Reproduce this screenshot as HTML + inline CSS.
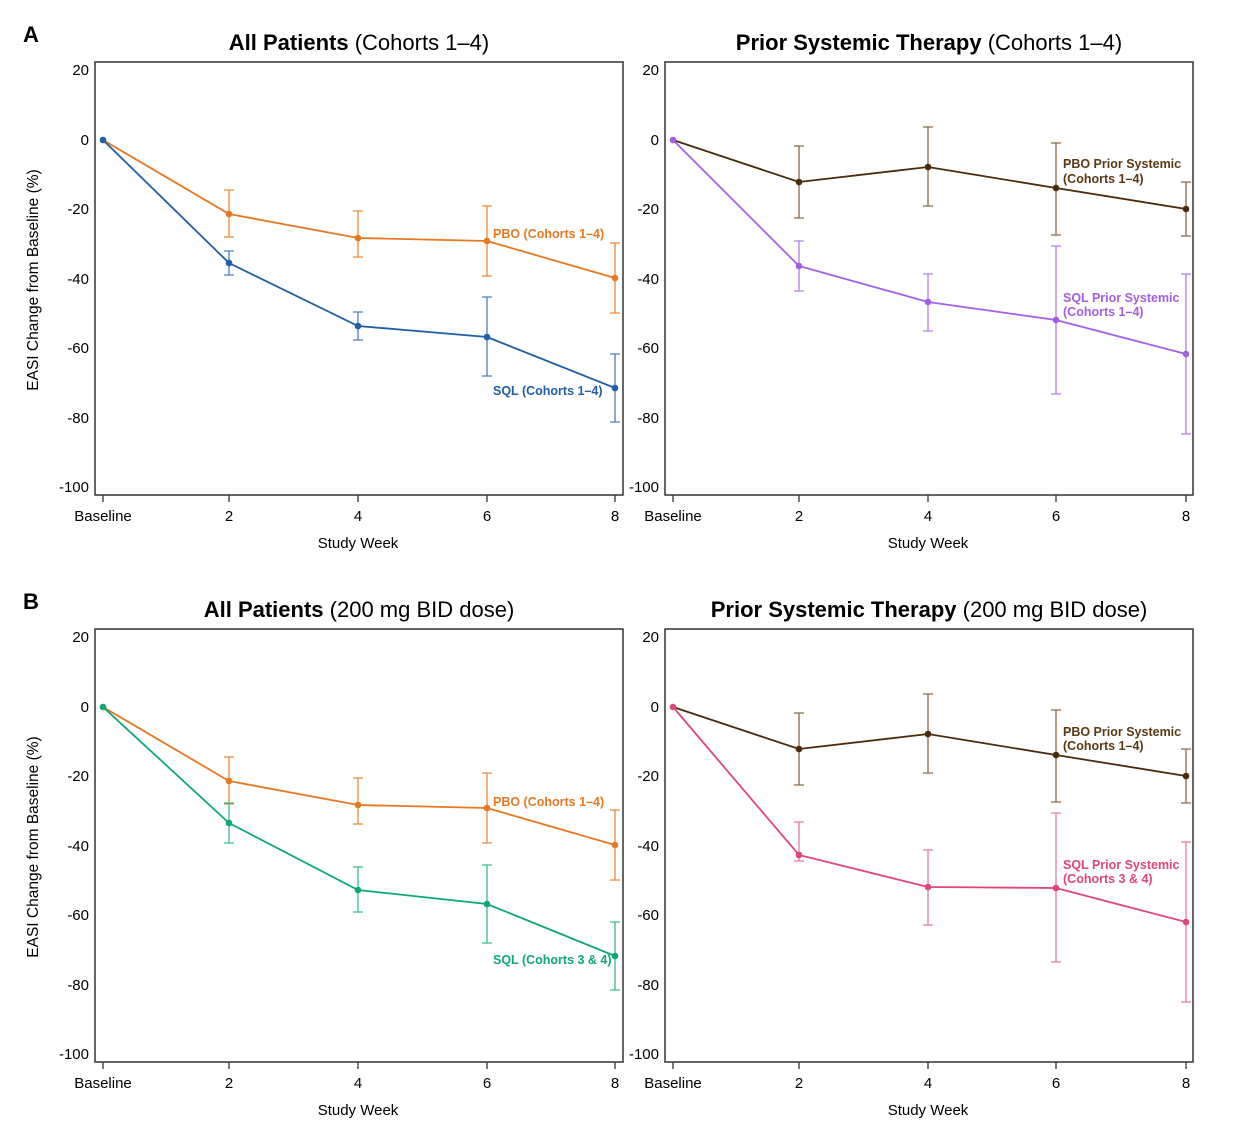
<!DOCTYPE html>
<html><head><meta charset="utf-8"><style>
body{margin:0;background:#fff}
svg{display:block;font-family:"Liberation Sans",Arial,sans-serif}
.t{font-size:22px;text-anchor:middle}
.yl{font-size:15px;text-anchor:end}
.xl{font-size:15px;text-anchor:middle}
.lab{font-size:12.5px;font-weight:bold}
.box{fill:none;stroke:#333;stroke-width:1.5}
.eb{stroke-width:1.3;fill:none}
.ln{stroke-width:1.8;fill:none}
</style></head><body>
<svg width="1235" height="1142" viewBox="0 0 1235 1142">
<text x="23" y="42" font-size="22" font-weight="bold">A</text>
<text x="23" y="609" font-size="22" font-weight="bold">B</text>

<text class="t" x="359" y="50"><tspan font-weight="bold">All Patients</tspan> (Cohorts 1–4)</text>
<text class="t" x="929" y="50"><tspan font-weight="bold">Prior Systemic Therapy</tspan> (Cohorts 1–4)</text>
<text class="t" x="359" y="617"><tspan font-weight="bold">All Patients</tspan> (200 mg BID dose)</text>
<text class="t" x="929" y="617"><tspan font-weight="bold">Prior Systemic Therapy</tspan> (200 mg BID dose)</text>

<rect class="box" x="95" y="62" width="528" height="433"/>
<rect class="box" x="665" y="62" width="528" height="433"/>
<rect class="box" x="95" y="629" width="528" height="433"/>
<rect class="box" x="665" y="629" width="528" height="433"/>

<g class="yl">
<text x="89" y="75">20</text><text x="89" y="145">0</text><text x="89" y="214">-20</text><text x="89" y="284">-40</text><text x="89" y="353">-60</text><text x="89" y="423">-80</text><text x="89" y="492">-100</text>
<text x="659" y="75">20</text><text x="659" y="145">0</text><text x="659" y="214">-20</text><text x="659" y="284">-40</text><text x="659" y="353">-60</text><text x="659" y="423">-80</text><text x="659" y="492">-100</text>
<text x="89" y="642">20</text><text x="89" y="712">0</text><text x="89" y="781">-20</text><text x="89" y="851">-40</text><text x="89" y="920">-60</text><text x="89" y="990">-80</text><text x="89" y="1059">-100</text>
<text x="659" y="642">20</text><text x="659" y="712">0</text><text x="659" y="781">-20</text><text x="659" y="851">-40</text><text x="659" y="920">-60</text><text x="659" y="990">-80</text><text x="659" y="1059">-100</text>
</g>
<text font-size="15.5" text-anchor="middle" transform="translate(38,280) rotate(-90)">EASI Change from Baseline (%)</text>
<text font-size="15.5" text-anchor="middle" transform="translate(38,847) rotate(-90)">EASI Change from Baseline (%)</text>

<g stroke="#333" stroke-width="1.3">
<path d="M103 495v7M229 495v7M358 495v7M487 495v7M615 495v7M673 495v7M799 495v7M928 495v7M1056 495v7M1186 495v7"/>
<path d="M103 1062v7M229 1062v7M358 1062v7M487 1062v7M615 1062v7M673 1062v7M799 1062v7M928 1062v7M1056 1062v7M1186 1062v7"/>
</g>
<g class="xl">
<text x="103" y="521">Baseline</text><text x="229" y="521">2</text><text x="358" y="521">4</text><text x="487" y="521">6</text><text x="615" y="521">8</text>
<text x="673" y="521">Baseline</text><text x="799" y="521">2</text><text x="928" y="521">4</text><text x="1056" y="521">6</text><text x="1186" y="521">8</text>
<text x="358" y="548">Study Week</text><text x="928" y="548">Study Week</text>
<text x="103" y="1088">Baseline</text><text x="229" y="1088">2</text><text x="358" y="1088">4</text><text x="487" y="1088">6</text><text x="615" y="1088">8</text>
<text x="673" y="1088">Baseline</text><text x="799" y="1088">2</text><text x="928" y="1088">4</text><text x="1056" y="1088">6</text><text x="1186" y="1088">8</text>
<text x="358" y="1115">Study Week</text><text x="928" y="1115">Study Week</text>
</g>

<g stroke="#ec8a3c" class="eb"><path d="M229 190V237M224 190h10M224 237h10M358 211V257M353 211h10M353 257h10M487 206V276M482 206h10M482 276h10M615 243V313M610 243h10M610 313h10"/></g>
<g stroke="#4a7fbf" class="eb"><path d="M229 251V275M224 251h10M224 275h10M358 312V340M353 312h10M353 340h10M487 297V376M482 297h10M482 376h10M615 354V422M610 354h10M610 422h10"/></g>
<polyline class="ln" stroke="#e87722" points="103,140 229,214 358,238 487,241 615,278"/>
<polyline class="ln" stroke="#1f5fa6" points="103,140 229,263 358,326 487,337 615,388"/>
<g fill="#e87722"><circle cx="229" cy="214" r="3.3"/><circle cx="358" cy="238" r="3.3"/><circle cx="487" cy="241" r="3.3"/><circle cx="615" cy="278" r="3.3"/></g>
<g fill="#1f5fa6"><circle cx="103" cy="140" r="3.3"/><circle cx="229" cy="263" r="3.3"/><circle cx="358" cy="326" r="3.3"/><circle cx="487" cy="337" r="3.3"/><circle cx="615" cy="388" r="3.3"/></g>
<text class="lab" fill="#e87722" x="493" y="238">PBO (Cohorts 1–4)</text>
<text class="lab" fill="#1f5fa6" x="493" y="395">SQL (Cohorts 1–4)</text>

<g stroke="#8a6a48" class="eb"><path d="M799 146V218M794 146h10M794 218h10M928 127V206M923 127h10M923 206h10M1056 143V235M1051 143h10M1051 235h10M1186 182V236M1181 182h10M1181 236h10"/></g>
<g stroke="#b47ee8" class="eb"><path d="M799 241V291M794 241h10M794 291h10M928 274V331M923 274h10M923 331h10M1056 246V394M1051 246h10M1051 394h10M1186 274V434M1181 274h10M1181 434h10"/></g>
<polyline class="ln" stroke="#4a2c0c" points="673,140 799,182 928,167 1056,188 1186,209"/>
<polyline class="ln" stroke="#a45ee5" points="673,140 799,266 928,302 1056,320 1186,354"/>
<g fill="#4a2c0c"><circle cx="799" cy="182" r="3.3"/><circle cx="928" cy="167" r="3.3"/><circle cx="1056" cy="188" r="3.3"/><circle cx="1186" cy="209" r="3.3"/></g>
<g fill="#a45ee5"><circle cx="673" cy="140" r="3.3"/><circle cx="799" cy="266" r="3.3"/><circle cx="928" cy="302" r="3.3"/><circle cx="1056" cy="320" r="3.3"/><circle cx="1186" cy="354" r="3.3"/></g>
<text class="lab" fill="#5a3a12" x="1063" y="168">PBO Prior Systemic</text>
<text class="lab" fill="#5a3a12" x="1063" y="183">(Cohorts 1–4)</text>
<text class="lab" fill="#a45ee5" x="1063" y="302">SQL Prior Systemic</text>
<text class="lab" fill="#a45ee5" x="1063" y="316">(Cohorts 1–4)</text>

<g stroke="#ec8a3c" class="eb"><path d="M229 757V804M224 757h10M224 804h10M358 778V824M353 778h10M353 824h10M487 773V843M482 773h10M482 843h10M615 810V880M610 810h10M610 880h10"/></g>
<g stroke="#3dbb8e" class="eb"><path d="M229 803V843M224 803h10M224 843h10M358 867V912M353 867h10M353 912h10M487 865V943M482 865h10M482 943h10M615 922V990M610 922h10M610 990h10"/></g>
<polyline class="ln" stroke="#e87722" points="103,707 229,781 358,805 487,808 615,845"/>
<polyline class="ln" stroke="#0ea878" points="103,707 229,823 358,890 487,904 615,956"/>
<g fill="#e87722"><circle cx="229" cy="781" r="3.3"/><circle cx="358" cy="805" r="3.3"/><circle cx="487" cy="808" r="3.3"/><circle cx="615" cy="845" r="3.3"/></g>
<g fill="#0ea878"><circle cx="103" cy="707" r="3.3"/><circle cx="229" cy="823" r="3.3"/><circle cx="358" cy="890" r="3.3"/><circle cx="487" cy="904" r="3.3"/><circle cx="615" cy="956" r="3.3"/></g>
<text class="lab" fill="#e87722" x="493" y="806">PBO (Cohorts 1–4)</text>
<text class="lab" fill="#0ea878" x="493" y="964">SQL (Cohorts 3 &amp; 4)</text>

<g stroke="#8a6a48" class="eb"><path d="M799 713V785M794 713h10M794 785h10M928 694V773M923 694h10M923 773h10M1056 710V802M1051 710h10M1051 802h10M1186 749V803M1181 749h10M1181 803h10"/></g>
<g stroke="#ea7aa0" class="eb"><path d="M799 822V861M794 822h10M794 861h10M928 850V925M923 850h10M923 925h10M1056 813V962M1051 813h10M1051 962h10M1186 842V1002M1181 842h10M1181 1002h10"/></g>
<polyline class="ln" stroke="#4a2c0c" points="673,707 799,749 928,734 1056,755 1186,776"/>
<polyline class="ln" stroke="#e0457b" points="673,707 799,855 928,887 1056,888 1186,922"/>
<g fill="#4a2c0c"><circle cx="799" cy="749" r="3.3"/><circle cx="928" cy="734" r="3.3"/><circle cx="1056" cy="755" r="3.3"/><circle cx="1186" cy="776" r="3.3"/></g>
<g fill="#e0457b"><circle cx="673" cy="707" r="3.3"/><circle cx="799" cy="855" r="3.3"/><circle cx="928" cy="887" r="3.3"/><circle cx="1056" cy="888" r="3.3"/><circle cx="1186" cy="922" r="3.3"/></g>
<text class="lab" fill="#5a3a12" x="1063" y="736">PBO Prior Systemic</text>
<text class="lab" fill="#5a3a12" x="1063" y="750">(Cohorts 1–4)</text>
<text class="lab" fill="#e0457b" x="1063" y="869">SQL Prior Systemic</text>
<text class="lab" fill="#e0457b" x="1063" y="883">(Cohorts 3 &amp; 4)</text>
</svg>
</body></html>
